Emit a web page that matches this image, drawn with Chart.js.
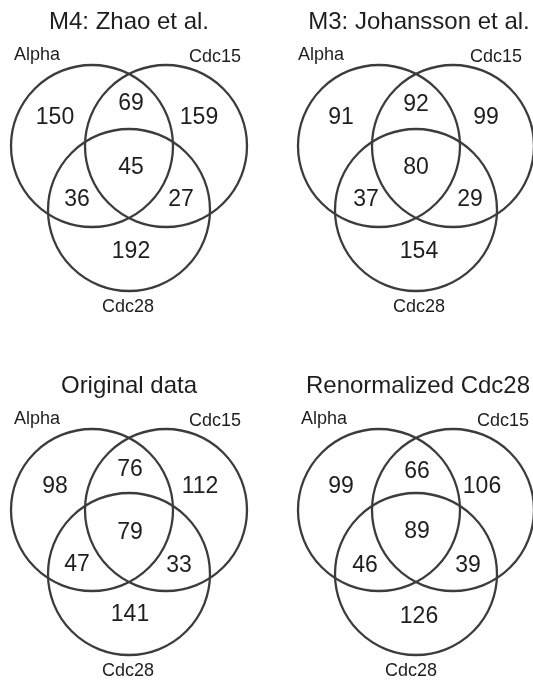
<!DOCTYPE html>
<html>
<head>
<meta charset="utf-8">
<script src="https://cdn.jsdelivr.net/npm/chart.js@4"></script>
<style>
  html, body { margin: 0; padding: 0; background: #ffffff; }
  #wrap { position: relative; width: 533px; height: 682px; overflow: hidden; background: #fff; }
  .panel { position: absolute; }
</style>
</head>
<body>
<div id="wrap">
  <div class="panel" style="left:0px;top:0px;"><canvas id="c0" width="287" height="364"></canvas></div>
  <div class="panel" style="left:287px;top:0px;"><canvas id="c1" width="246" height="364"></canvas></div>
  <div class="panel" style="left:0px;top:364px;"><canvas id="c2" width="287" height="318"></canvas></div>
  <div class="panel" style="left:287px;top:364px;"><canvas id="c3" width="246" height="318"></canvas></div>
</div>
<script>
// ---------- data ----------
const panelTitles = ["M4: Zhao et al.", "M3: Johansson et al.", "Original data", "Renormalized Cdc28"];
const setNames = ["Alpha", "Cdc15", "Cdc28"];
// region order: Alpha only, Alpha&Cdc15, Cdc15 only, all three, Alpha&Cdc28, Cdc15&Cdc28, Cdc28 only
const regionNames = ["Alpha only", "Alpha∩Cdc15", "Cdc15 only", "Alpha∩Cdc15∩Cdc28", "Alpha∩Cdc28", "Cdc15∩Cdc28", "Cdc28 only"];
const zhaoCounts = [150, 69, 159, 45, 36, 27, 192];
const johanssonCounts = [91, 92, 99, 80, 37, 29, 154];
const originalCounts = [98, 76, 112, 79, 47, 33, 141];
const renormalizedCounts = [99, 66, 106, 89, 46, 39, 126];
const panelCounts = [zhaoCounts, johanssonCounts, originalCounts, renormalizedCounts];

// ---------- layout (panel-local pixel geometry of the Venn diagram) ----------
const circleCenters = [[92, 146], [166, 146], [129, 210]];
const circleRadius = 81;
// label positions of the seven region counts, per panel
const regionLabelPosByPanel = [
  [[55, 118], [131, 104], [199, 118], [131, 168], [77, 200], [181, 200], [131, 252]],
  [[54, 118], [129, 105], [199, 118], [129, 168], [79, 200], [183, 200], [132, 252]],
  [[55, 123], [130, 106], [200, 123], [130, 169], [77, 201], [179, 202], [130, 251]],
  [[54, 123], [130, 108], [195, 123], [130, 168], [78, 202], [181, 202], [132, 253]]
];
// set-name label positions per panel: [Alpha, Cdc15, Cdc28]
const setLabelPosByPanel = [
  [[37, 55], [215, 57], [128, 307]],
  [[34, 55], [209, 57], [132, 307]],
  [[37, 55], [215, 57], [128, 307]],
  [[37, 55], [216, 57], [124, 307]]
];
const titleXByPanel = [129, 132, 129, 131];
const titleY = 22;

const FONT = '"Liberation Sans", Arial, Helvetica, sans-serif';
const textPlugin = {
  id: 'vennText',
  afterDatasetsDraw(chart) {
    const ctx = chart.ctx;
    chart.data.datasets.forEach((ds, di) => {
      if (!ds.texts) return;
      const meta = chart.getDatasetMeta(di);
      ctx.save();
      ctx.fillStyle = ds.textColor;
      ctx.font = ds.textFont;
      ctx.textAlign = 'center';
      ctx.textBaseline = 'middle';
      meta.data.forEach((el, i) => {
        ctx.fillText(String(ds.texts[i]), el.x, el.y);
      });
      ctx.restore();
    });
  }
};

function makePanel(idx) {
  const canvas = document.getElementById('c' + idx);
  const W = canvas.width, H = canvas.height;
  const counts = panelCounts[idx];
  const setLabelPos = setLabelPosByPanel[idx];
  const regionLabelPos = regionLabelPosByPanel[idx];
  new Chart(canvas, {
    type: 'scatter',
    data: {
      datasets: [
        {
          label: 'sets',
          data: setNames.map((n, i) => ({ x: circleCenters[i][0], y: circleCenters[i][1] })),
          pointRadius: circleRadius,
          pointHoverRadius: circleRadius,
          pointBackgroundColor: 'rgba(0,0,0,0)',
          pointBorderColor: '#3c3c3c',
          pointBorderWidth: 2.3,
          clip: false
        },
        {
          label: 'counts',
          data: counts.map((v, i) => ({ x: regionLabelPos[i][0], y: regionLabelPos[i][1] })),
          texts: counts,
          textFont: '23px ' + FONT,
          textColor: '#1e1e1e',
          pointRadius: 0,
          clip: false
        },
        {
          label: 'setNames',
          data: setNames.map((n, i) => ({ x: setLabelPos[i][0], y: setLabelPos[i][1] })),
          texts: setNames,
          textFont: '18px ' + FONT,
          textColor: '#1e1e1e',
          pointRadius: 0,
          clip: false
        },
        {
          label: 'title',
          data: [{ x: titleXByPanel[idx], y: titleY }],
          texts: [panelTitles[idx]],
          textFont: '24px ' + FONT,
          textColor: '#1e1e1e',
          pointRadius: 0,
          clip: false
        }
      ]
    },
    options: {
      responsive: false,
      animation: false,
      devicePixelRatio: 1,
      events: [],
      layout: { padding: 0, autoPadding: false },
      scales: {
        x: { type: 'linear', min: 0, max: W, display: false },
        y: { type: 'linear', min: 0, max: H, reverse: true, display: false }
      },
      plugins: { legend: { display: false }, tooltip: { enabled: false }, title: { display: false } }
    },
    plugins: [textPlugin]
  });
}
[0, 1, 2, 3].forEach(makePanel);
</script>
</body>
</html>
